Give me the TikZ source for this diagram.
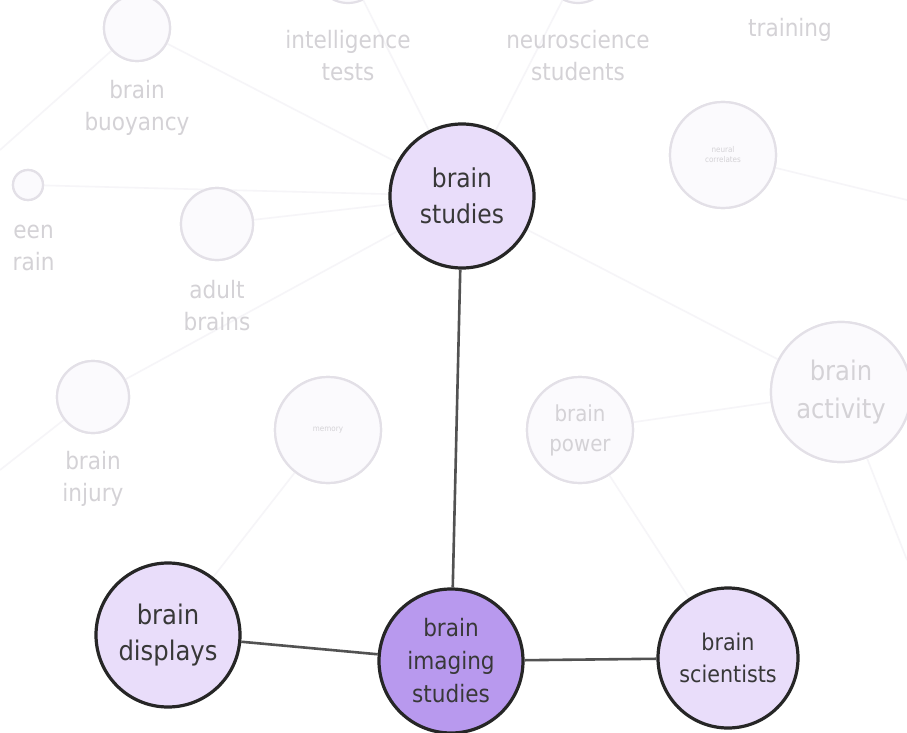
\documentclass[tikz,border=0pt]{standalone}
\usepackage{fontspec}
\setmainfont{DejaVu Sans Condensed}
\begin{document}
\begin{tikzpicture}[x=1pt,y=-1pt,
  mainnode/.style={circle,draw=black!85,line width=3.2pt,fill=focusfill,minimum size=144pt,inner sep=0pt,align=center,text=black!78,font=\fontsize{26}{36}\selectfont},
  focusnode/.style={mainnode,fill=centrefill,font=\fontsize{24}{33}\selectfont},
  ghost/.style={circle,draw=ghostline,line width=2.2pt,fill=ghostfill,inner sep=0pt},
  ghosttext/.style={text=ghosttxt,align=center,font=\fontsize{24}{32}\selectfont},
  ghostedge/.style={draw=ghostedgec,line width=1.6pt},
  link/.style={draw=black!68,line width=2.6pt}]
\definecolor{focusfill}{HTML}{E9DDFA}
\definecolor{centrefill}{HTML}{B899EE}
\definecolor{ghostline}{HTML}{E3E0E7}
\definecolor{ghostfill}{HTML}{FBFAFD}
\definecolor{ghosttxt}{HTML}{D4D2D6}
\definecolor{ghostedgec}{HTML}{F6F5F8}
\useasboundingbox[fill=white] (0,0) rectangle (907,733);

% faint background network
\node[ghost,minimum size=66pt] (buoy) at (137,28) {};
\node[ghost,minimum size=66pt] (intel) at (348,-30) {};
\node[ghost,minimum size=66pt] (neuro) at (578,-30) {};
\node[ghost,minimum size=30pt] (teen) at (28,185) {};
\node[ghost,minimum size=72pt] (adult) at (217,224) {};
\node[ghost,minimum size=72pt] (injury) at (93,397) {};
\node[ghost,minimum size=106pt] (memory) at (328,430) {};
\node[ghost,minimum size=106pt] (neural) at (723,155) {};
\node[ghost,minimum size=106pt] (power) at (580,430) {};
\node[ghost,minimum size=140pt] (activity) at (841,392) {};
\coordinate (eR1) at (907,200);
\coordinate (eR2) at (907,560);
\coordinate (eL1) at (0,470);
\coordinate (eL2) at (0,150);

\path[ghostedge] (teen) -- (462,196);
\path[ghostedge] (adult) -- (462,196);
\path[ghostedge] (buoy) -- (462,196);
\path[ghostedge] (injury) -- (462,196);
\path[ghostedge] (power) -- (activity);
\path[ghostedge] (neural) -- (eR1);
\path[ghostedge] (462,196) -- (activity);
\path[ghostedge] (memory) -- (168,635);
\path[ghostedge] (power) -- (728,658);
\path[ghostedge] (eL1) -- (injury);
\path[ghostedge] (eL2) -- (buoy);
\path[ghostedge] (activity) -- (eR2);
\path[ghostedge] (neuro) -- (462,196);
\path[ghostedge] (intel) -- (462,196);

\node[ghost,minimum size=66pt] at (buoy) {};
\node[ghost,minimum size=30pt] at (teen) {};
\node[ghost,minimum size=72pt] at (adult) {};
\node[ghost,minimum size=72pt] at (injury) {};
\node[ghost,minimum size=106pt] at (memory) {};
\node[ghost,minimum size=106pt] at (neural) {};
\node[ghost,minimum size=106pt] at (power) {};
\node[ghost,minimum size=140pt] at (activity) {};

\node[ghosttext] (tbuoy) at (137,108) {brain\\buoyancy};
\node[ghosttext] (tintel) at (348,56) {intelligence\\tests};
\node[ghosttext] (tneuro) at (578,56) {neuroscience\\students};
\node[ghosttext] (ttrain) at (790,30) {training};
\node[ghosttext,anchor=east] (tteen) at (58,248) {een\\rain};
\node[ghosttext] (tadult) at (217,306) {adult\\brains};
\node[ghosttext] (tinjury) at (93,479) {brain\\injury};
\node[ghosttext,font=\fontsize{8}{10}\selectfont] at (memory) {memory};
\node[ghosttext,font=\fontsize{8}{10}\selectfont] at (neural) {neural\\correlates};
\node[ghosttext,font=\fontsize{22}{30}\selectfont] at (power) {brain\\power};
\node[ghosttext,font=\fontsize{27}{38}\selectfont] at (activity) {brain\\activity};

% highlighted neighbourhood
\node[mainnode] (studies) at (462,196) {brain\\studies};
\node[focusnode] (imaging) at (451,661) {brain\\imaging\\studies};
\node[mainnode,font=\fontsize{27}{36}\selectfont] (displays) at (168,635) {brain\\displays};
\node[mainnode,minimum size=140pt,font=\fontsize{23}{32}\selectfont] (scientists) at (728,658) {brain\\scientists};

\path[link] (studies) -- (imaging);
\path[link] (displays) -- (imaging);
\path[link] (imaging) -- (scientists);
\end{tikzpicture}
\end{document}
